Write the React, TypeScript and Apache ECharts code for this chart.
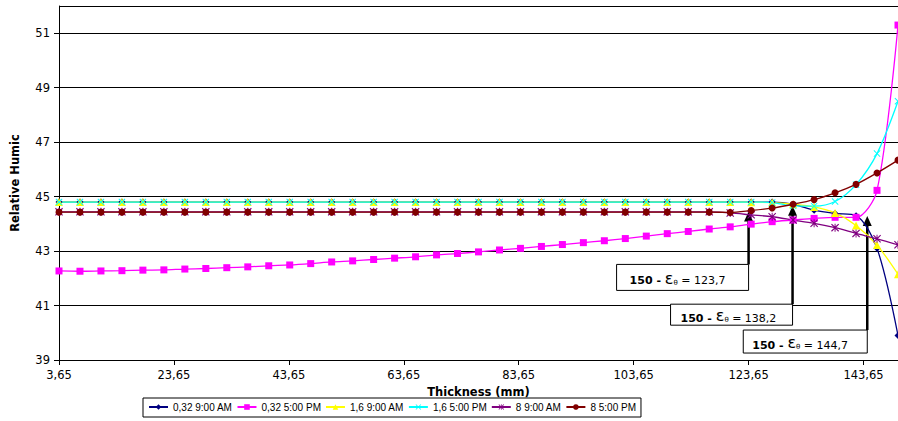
import React, { useEffect, useRef } from 'react';
import * as echarts from 'echarts';

// Thickness (mm) of each computed node
const thickness = [3.65, 7.3, 10.95, 14.6, 18.25, 21.9, 25.55, 29.2, 32.85, 36.5, 40.15, 43.8, 47.45, 51.1, 54.75, 58.4, 62.05, 65.7, 69.35, 73, 76.65, 80.3, 83.95, 87.6, 91.25, 94.9, 98.55, 102.2, 105.85, 109.5, 113.15, 116.8, 120.45, 124.1, 127.75, 131.4, 135.05, 138.7, 142.35, 146, 149.65];

const seriesNames = ['0,32 9:00 AM', '0,32 5:00 PM', '1,6 9:00 AM', '1,6 5:00 PM', '8 9:00 AM', '8 5:00 PM'];

const rh032am = [44.8, 44.8, 44.8, 44.8, 44.8, 44.8, 44.8, 44.8, 44.8, 44.8, 44.8, 44.8, 44.8, 44.8, 44.8, 44.8, 44.8, 44.8, 44.8, 44.8, 44.8, 44.8, 44.8, 44.8, 44.8, 44.8, 44.8, 44.8, 44.8, 44.8, 44.8, 44.8, 44.8, 44.8, 44.8, 44.72, 44.5, 44.38, 44.3, 43.1, 39.9];
const rh032pm = [42.27, 42.26, 42.27, 42.28, 42.3, 42.31, 42.34, 42.36, 42.39, 42.42, 42.46, 42.49, 42.54, 42.6, 42.64, 42.69, 42.74, 42.79, 42.86, 42.91, 42.97, 43.04, 43.1, 43.17, 43.24, 43.31, 43.38, 43.46, 43.55, 43.64, 43.72, 43.81, 43.89, 43.99, 44.08, 44.14, 44.2, 44.24, 44.24, 45.23, 51.3];
const rh16am = [44.8, 44.8, 44.8, 44.8, 44.8, 44.8, 44.8, 44.8, 44.8, 44.8, 44.8, 44.8, 44.8, 44.8, 44.8, 44.8, 44.8, 44.8, 44.8, 44.8, 44.8, 44.8, 44.8, 44.8, 44.8, 44.8, 44.8, 44.8, 44.8, 44.8, 44.8, 44.8, 44.8, 44.79, 44.78, 44.72, 44.62, 44.4, 43.94, 43.22, 42.15];
const rh16pm = [44.8, 44.8, 44.8, 44.8, 44.8, 44.8, 44.8, 44.8, 44.8, 44.8, 44.8, 44.8, 44.8, 44.8, 44.8, 44.8, 44.8, 44.8, 44.8, 44.8, 44.8, 44.8, 44.8, 44.8, 44.8, 44.8, 44.8, 44.8, 44.8, 44.8, 44.8, 44.8, 44.8, 44.8, 44.78, 44.66, 44.65, 44.82, 45.44, 46.58, 48.5];
const rh8am = [44.44, 44.44, 44.44, 44.44, 44.44, 44.44, 44.44, 44.44, 44.44, 44.44, 44.44, 44.44, 44.44, 44.44, 44.44, 44.44, 44.44, 44.44, 44.44, 44.44, 44.44, 44.44, 44.44, 44.44, 44.44, 44.44, 44.44, 44.44, 44.44, 44.44, 44.44, 44.44, 44.4, 44.33, 44.26, 44.14, 44.02, 43.86, 43.65, 43.45, 43.23];
const rh8pm = [44.43, 44.43, 44.43, 44.43, 44.43, 44.43, 44.43, 44.43, 44.43, 44.43, 44.43, 44.43, 44.43, 44.43, 44.43, 44.43, 44.43, 44.43, 44.43, 44.43, 44.43, 44.43, 44.43, 44.43, 44.43, 44.43, 44.43, 44.43, 44.43, 44.43, 44.43, 44.43, 44.42, 44.49, 44.58, 44.72, 44.89, 45.14, 45.45, 45.87, 46.34];

// Axis settings
const X0 = 3.65; // first thickness tick
const xTickStep = 20;
const xSpan = 146;
const yMin = 39;
const yMax = 52;
const yStep = 2;

// Annotations: "150 - εθ = value"
const annotLabels = ['123,7', '138,2', '144,7'];
const annotX = [123.65, 131.3, 144.3];
const annotTipY = [44.45, 44.66, 44.29];
const annotBoxY = [42.51, 41.05, 40.1];

const colors = ['#000080', '#FF00FF', '#FFFF00', '#00FFFF', '#800080', '#800000'];
const symbols = [
  'diamond',
  'rect',
  'triangle',
  'path://M0,1L1,0L5,4L9,0L10,1L6,5L10,9L9,10L5,6L1,10L0,9L4,5Z',
  'path://M0,1L1,0L5,4L9,0L10,1L6,5L10,9L9,10L5,6L1,10L0,9L4,5Z M4.4,0H5.6V10H4.4Z',
  'circle',
];
const symbolSizes = [7, 7, 8, 7, 8, 7];

export default function App() {
  const ref = useRef<HTMLDivElement>(null);
  useEffect(() => {
    const chart = echarts.init(ref.current!, null, { renderer: 'svg' });
    const allSeries = [rh032am, rh032pm, rh16am, rh16pm, rh8am, rh8pm];
    const font = 'DejaVu Sans';
    chart.setOption({
      animation: false,
      grid: { left: 59, right: 0, top: 6, bottom: 61, containLabel: false },
      legend: {
        left: 143,
        top: 398,
        data: seriesNames,
        borderColor: '#000',
        borderWidth: 1,
        padding: [4, 5, 5, 5],
        itemWidth: 19,
        itemHeight: 7,
        itemGap: 4,
        textStyle: { fontFamily: 'Liberation Sans', fontSize: 10, color: '#000' },
      },
      xAxis: {
        type: 'value',
        min: 0,
        max: xSpan,
        interval: xTickStep,
        name: 'Thickness (mm)',
        nameLocation: 'middle',
        nameGap: 24,
        nameTextStyle: { fontFamily: font, fontWeight: 'bold', fontSize: 11.5, color: '#000' },
        axisLine: { lineStyle: { color: '#000', width: 1 } },
        axisTick: { show: true, length: 5, lineStyle: { color: '#000' } },
        axisLabel: {
          margin: 9,
          showMaxLabel: false,
          fontFamily: font,
          fontSize: 11.5,
          color: '#000',
          formatter: (v: number) => (v % xTickStep === 0 ? (v + X0).toFixed(2).replace('.', ',') : ''),
        },
        splitLine: { show: false },
      },
      yAxis: {
        type: 'value',
        min: yMin,
        max: yMax,
        interval: yStep,
        name: 'Relative Humic',
        nameLocation: 'middle',
        nameRotate: 90,
        nameGap: 38,
        nameTextStyle: { fontFamily: font, fontWeight: 'bold', fontSize: 11.5, color: '#000' },
        axisLine: { show: true, lineStyle: { color: '#000', width: 1 } },
        axisTick: { show: true, length: 5, lineStyle: { color: '#000' } },
        axisLabel: {
          margin: 9,
          showMaxLabel: false,
          fontFamily: font,
          fontSize: 11.5,
          color: '#000',
          formatter: (v: number) => ((v - yMin) % yStep === 0 ? String(v) : ''),
        },
        splitLine: { show: true, lineStyle: { color: '#000', width: 1 } },
      },
      series: allSeries.map((vals, i) => ({
        name: seriesNames[i],
        type: 'line',
        data: thickness.map((t, j) => [t - X0, vals[j]]),
        smooth: 0.3,
        symbol: symbols[i],
        symbolSize: symbolSizes[i],
        showAllSymbol: true,
        lineStyle: { color: colors[i], width: 1.3 },
        itemStyle: { color: colors[i] },
        clip: true,
      })),
    });

    const boxW = [132, 122, 124];
    const boxH = [26, 21, 23];
    const textDx = [13, 10, 9];
    const graphics = annotX.map((x, i) => {
      const [px, tipPx] = chart.convertToPixel({ gridIndex: 0 }, [x - X0, annotTipY[i]]) as number[];
      const [, boxTop] = chart.convertToPixel({ gridIndex: 0 }, [x - X0, annotBoxY[i]]) as number[];
      const w = boxW[i];
      const h = boxH[i];
      return {
        type: 'group',
        children: [
          { type: 'rect', shape: { x: px - w, y: boxTop, width: w, height: h }, style: { fill: '#fff', stroke: '#000', lineWidth: 1 } },
          { type: 'line', shape: { x1: px, y1: boxTop, x2: px, y2: tipPx + 8 }, style: { stroke: '#000', lineWidth: 2.5 } },
          { type: 'polygon', shape: { points: [[px, tipPx], [px - 4.5, tipPx + 10], [px + 4.5, tipPx + 10]] }, style: { fill: '#000' } },
          {
            type: 'text',
            x: px - w + textDx[i],
            y: boxTop + h / 2 + 1,
            style: {
              text: `{b|150 - }{e|ε}{s|θ}{n| = ${annotLabels[i]}}`,
              verticalAlign: 'middle',
              align: 'left',
              rich: {
                b: { fontFamily: font, fontWeight: 'bold', fontSize: 11, fill: '#000', verticalAlign: 'bottom' },
                e: { fontFamily: font, fontSize: 16, fill: '#000', verticalAlign: 'bottom' },
                s: { fontFamily: font, fontSize: 7, fill: '#000', verticalAlign: 'bottom' },
                n: { fontFamily: font, fontSize: 11, fill: '#000', verticalAlign: 'bottom' },
              },
            },
          },
        ],
      };
    });
    chart.setOption({ graphic: graphics });

    return () => chart.dispose();
  }, []);
  return <div ref={ref} style={{ position: 'absolute', left: 0, top: 0, width: 898, height: 421 }} />;
}
